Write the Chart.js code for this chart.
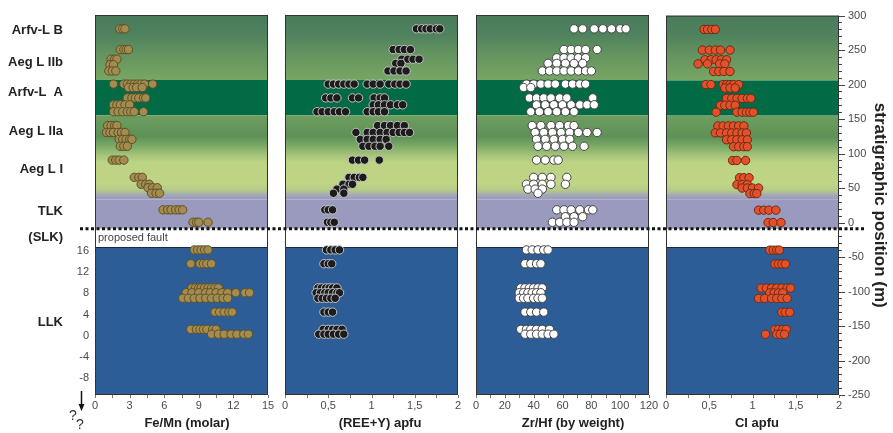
<!DOCTYPE html>
<html>
<head>
<meta charset="utf-8">
<script src="https://cdn.jsdelivr.net/npm/chart.js@4.4.1/dist/chart.umd.min.js"></script>
<style>
  html, body { margin: 0; padding: 0; background: #fff; }
  #wrap { position: relative; width: 893px; height: 433px; }
  #wrap canvas { position: absolute; left: 0; top: 0; }
</style>
</head>
<body>
<div id="wrap">
  <canvas id="c1" width="893" height="433"></canvas>
  <canvas id="c2" width="893" height="433"></canvas>
  <canvas id="c3" width="893" height="433"></canvas>
  <canvas id="c4" width="893" height="433"></canvas>
</div>
<script>
const FONT = "'Liberation Sans', Arial, Helvetica, sans-serif";
Chart.defaults.font.family = FONT;

// Each row: stratigraphic position (m), then the analyses measured at that level
const feMnRows = [
  [280, 2.15, 2.4, 2.6],
  [250, 2.2, 2.5, 2.7, 2.9],
  [236, 1.4, 1.7, 1.9],
  [228, 1.3, 1.6],
  [219, 1.2, 1.5, 1.8],
  [200, 1.6, 2.5, 2.8, 3.1, 3.4, 3.7, 4.0, 4.3, 5.0],
  [195, 2.9, 3.3, 3.6, 4.1],
  [180, 2.8, 3.2, 3.5, 3.8, 4.2, 4.4],
  [170, 1.6, 1.9, 2.2, 2.6, 3.0],
  [160, 1.6, 2.0, 2.4, 2.8, 3.1, 3.4, 4.2],
  [140, 1.1, 1.4, 1.7, 1.9],
  [130, 1.0, 1.3, 1.6, 2.0, 2.3, 2.6],
  [120, 2.1, 2.4, 2.7, 3.0, 3.2],
  [110, 2.2, 2.5, 2.8],
  [90, 1.5, 1.8, 2.1, 2.5],
  [65, 3.4, 3.8, 4.1],
  [55, 4.0, 4.4, 4.7],
  [50, 4.6, 5.0, 5.4],
  [42, 4.9, 5.3, 5.6],
  [18, 5.9, 6.3, 6.6, 7.0, 7.3, 7.6],
  [0, 8.5, 8.8, 9.0, 9.8],
  [-40, 8.6, 8.9, 9.2, 9.5, 9.8],
  [-60, 8.3, 9.1, 9.4, 9.7, 10.1],
  [-95, 8.4, 8.7, 9.0, 9.2, 9.5, 9.8, 10.1, 10.4, 10.7],
  [-102, 7.9, 8.4, 9.0, 9.6, 10.0, 10.5, 11.0, 11.5, 12.2, 13.0, 13.4],
  [-110, 7.6, 8.1, 8.6, 9.1, 9.6, 10.1, 10.6, 11.1, 11.5],
  [-130, 10.4, 10.8, 11.2, 11.6, 11.9],
  [-155, 8.3, 8.8, 9.1, 9.4, 9.7, 10.2, 10.5],
  [-162, 10.1, 10.7, 11.2, 11.8, 12.3, 12.9, 13.3]
];

const reeRows = [
  [280, 1.52, 1.58, 1.63, 1.68, 1.75, 1.79],
  [250, 1.25, 1.32, 1.38, 1.45],
  [236, 1.35, 1.42, 1.48, 1.55],
  [230, 1.28, 1.34],
  [219, 1.19, 1.26, 1.33, 1.40],
  [200, 0.5, 0.56, 0.62, 0.68, 0.74, 0.8, 0.95, 1.02, 1.1, 1.2, 1.27, 1.33, 1.4],
  [180, 0.47, 0.53, 0.6, 0.78, 0.85, 1.03, 1.1, 1.15],
  [170, 1.02, 1.08, 1.15, 1.22, 1.3, 1.36],
  [160, 0.37, 0.43, 0.5, 0.57, 0.63, 0.7, 0.95, 1.02, 1.08, 1.15],
  [140, 1.07, 1.15, 1.22, 1.3, 1.38],
  [130, 0.82, 0.95, 1.02, 1.1, 1.18, 1.25, 1.32, 1.38, 1.44],
  [120, 0.87, 0.95, 1.02, 1.1, 1.17],
  [110, 0.9, 0.97, 1.04, 1.1, 1.2],
  [90, 0.78, 0.85, 0.92, 1.09],
  [65, 0.74, 0.8, 0.86, 0.9],
  [55, 0.67, 0.74, 0.78],
  [48, 0.6, 0.68],
  [42, 0.56, 0.68],
  [18, 0.46, 0.5, 0.55],
  [0, 0.49, 0.53, 0.57],
  [-40, 0.48, 0.53, 0.58, 0.63],
  [-60, 0.45, 0.5, 0.54],
  [-95, 0.38, 0.42, 0.47, 0.51, 0.55, 0.6],
  [-102, 0.36, 0.41, 0.46, 0.5, 0.55, 0.6, 0.63],
  [-110, 0.38, 0.43, 0.48, 0.53, 0.58],
  [-130, 0.45, 0.5, 0.55],
  [-155, 0.44, 0.5, 0.55, 0.6, 0.66],
  [-162, 0.39, 0.45, 0.5, 0.56, 0.62, 0.68]
];

const zrHfRows = [
  [280, 68, 74, 82, 88, 94, 100, 104],
  [250, 61, 66, 71, 76, 84],
  [238, 56, 61, 66, 71, 76],
  [230, 50, 56, 62, 68, 74],
  [219, 46, 51, 56, 61, 66, 71, 76, 80],
  [200, 35, 40, 45, 50, 55, 62, 67, 72, 76],
  [195, 33, 38],
  [180, 37, 42, 47, 52, 58, 63, 81],
  [170, 42, 48, 54, 60, 66, 72, 77, 82],
  [160, 38, 44, 50, 56, 62, 68],
  [140, 39, 45, 52, 58, 64, 68],
  [130, 41, 47, 53, 59, 65, 71, 77, 84],
  [120, 42, 48, 54, 60, 65],
  [110, 43, 49, 55, 61, 67, 75],
  [90, 42, 48, 54, 57],
  [65, 40, 46, 52, 63],
  [55, 35, 40, 46, 52, 62],
  [48, 36, 41, 46],
  [42, 43],
  [18, 56, 61, 66, 72, 78, 81],
  [8, 62, 68, 74],
  [0, 53, 58, 63, 68],
  [-40, 35, 39, 43, 47, 50],
  [-60, 34, 38, 42, 45],
  [-95, 31, 34, 37, 40, 43, 46],
  [-102, 30, 33, 36, 39, 42, 45],
  [-110, 30, 33, 36, 40, 43, 46],
  [-130, 34, 38, 42, 47],
  [-155, 31, 35, 38, 42, 46, 51],
  [-162, 34, 38, 42, 46, 50, 54]
];

const clRows = [
  [280, 0.44, 0.48, 0.53, 0.57],
  [250, 0.42, 0.5, 0.57, 0.63, 0.74],
  [236, 0.45, 0.52, 0.58, 0.64, 0.7],
  [230, 0.37, 0.48, 0.62, 0.68],
  [219, 0.55, 0.61, 0.67, 0.74],
  [200, 0.46, 0.52, 0.66, 0.7, 0.74, 0.78, 0.84],
  [195, 0.68, 0.74, 0.8],
  [180, 0.7, 0.76, 0.82, 0.88, 0.94, 0.98],
  [170, 0.63, 0.68, 0.74, 0.8],
  [160, 0.58, 0.82, 0.88, 0.93, 0.97, 1.01],
  [140, 0.6, 0.66, 0.72, 0.78, 0.84, 0.9],
  [130, 0.57, 0.63, 0.7, 0.76, 0.82, 0.88, 0.93],
  [120, 0.7, 0.76, 0.82, 0.88, 0.94],
  [110, 0.78, 0.84, 0.9, 0.94],
  [90, 0.77, 0.82, 0.92],
  [65, 0.85, 0.9, 0.96],
  [55, 0.82, 0.88, 0.94],
  [50, 0.88, 0.94, 1.0, 1.07],
  [42, 0.97, 1.02, 1.05],
  [18, 1.07, 1.13, 1.19, 1.27],
  [0, 1.18, 1.24, 1.33],
  [-40, 1.2, 1.24, 1.28, 1.31],
  [-60, 1.26, 1.3, 1.34, 1.38],
  [-95, 1.1, 1.16, 1.22, 1.28, 1.34, 1.4, 1.44],
  [-102, 1.2, 1.25, 1.3, 1.35],
  [-110, 1.07, 1.14, 1.22, 1.28, 1.34, 1.4],
  [-130, 1.34, 1.38, 1.43],
  [-155, 1.26, 1.3, 1.35, 1.39],
  [-162, 1.15, 1.28, 1.32, 1.37]
];

// Stratigraphic units and the position (m) of their labels
const unitNames = ['Arfv-L B', 'Aeg L IIb', 'Arfv-L  A', 'Aeg L IIa', 'Aeg L I', 'TLK', '(SLK)', 'LLK'];
const unitPositions = [277, 231, 188, 131, 76, 15, -22, -145];

// LLK sample numbering, tied to the metre scale
const llkTickValues = [16, 12, 8, 4, 0, -4, -8];
const llkOrigin = -164;        // metres at sample number 0
const llkMetresPerUnit = 7.63;

const yRange = [-250, 300];
const faultPosition = -9;      // proposed fault (m)
const gapBottom = -36;         // top of the LLK section (m)

// Coloured lithological zones, from top to bottom
const zones = [
  { from: 300, to: 206, stops: [[300, '#4a7b5c'], [272, '#4e825d'], [245, '#63935f'], [206, '#77a664']] },
  { from: 206, to: 155, color: '#006b45' },
  { from: 155, to: 33, stops: [[155, '#6e9e60'], [138, '#65975b'], [124, '#5e9157'], [110, '#7cab66'], [97, '#a6c47a'], [87, '#bcd384'], [56, '#c0d585'], [47, '#b5cc87'], [38, '#a2a3bb'], [33, '#9a9ac0']] },
  { from: 33, to: faultPosition, color: '#9a9abf' },
  { from: gapBottom, to: -250, color: '#2d5d97' }
];

const commaDecimal = v => String(Math.round(v * 100) / 100).replace('.', ',');

function toPoints(rows) {
  const pts = [];
  rows.forEach(r => { for (let i = 1; i < r.length; i++) pts.push({ x: r[i], y: r[0] }); });
  return pts;
}

const zonePlugin = {
  id: 'zones',
  beforeDatasetsDraw(chart) {
    const { ctx, chartArea: a, scales: { y } } = chart;
    ctx.save();
    ctx.beginPath();
    ctx.rect(a.left, a.top, a.right - a.left, a.bottom - a.top);
    ctx.clip();
    zones.forEach(z => {
      const y0 = y.getPixelForValue(z.from), y1 = y.getPixelForValue(z.to);
      if (z.stops) {
        const g = ctx.createLinearGradient(0, y0, 0, y1);
        z.stops.forEach(([m, c]) => g.addColorStop((z.from - m) / (z.from - z.to), c));
        ctx.fillStyle = g;
      } else {
        ctx.fillStyle = z.color;
      }
      ctx.fillRect(a.left, y0, a.right - a.left, y1 - y0);
    });
    const yb = Math.round(y.getPixelForValue(gapBottom)) + 0.5;
    ctx.strokeStyle = '#1e2a3a';
    ctx.lineWidth = 1;
    ctx.beginPath(); ctx.moveTo(a.left, yb); ctx.lineTo(a.right, yb); ctx.stroke();
    ctx.restore();
  }
};

const framePlugin = {
  id: 'frame',
  afterDraw(chart, args, opts) {
    const { ctx, chartArea: a, scales: { x } } = chart;
    ctx.save();
    ctx.strokeStyle = '#333';
    ctx.lineWidth = 1;
    ctx.strokeRect(a.left + 0.5, a.top + 0.5, a.right - a.left - 1, a.bottom - a.top - 1);
    // small ticks under the value axis
    ctx.strokeStyle = '#777';
    for (let v = x.min; v <= x.max + 1e-9; v += opts.minor) {
      const px = Math.round(x.getPixelForValue(v)) + 0.5;
      ctx.beginPath(); ctx.moveTo(px, a.bottom); ctx.lineTo(px, a.bottom + 3); ctx.stroke();
    }
    // axis title
    ctx.font = 'bold 13px ' + FONT;
    ctx.fillStyle = '#222';
    ctx.textAlign = 'center';
    ctx.textBaseline = 'middle';
    ctx.fillText(opts.title, opts.titleX, 423);
    ctx.restore();
  }
};

const leftNotesPlugin = {
  id: 'leftNotes',
  afterDraw(chart) {
    const { ctx, chartArea: a, scales: { y } } = chart;
    ctx.save();
    ctx.font = 'bold 13px ' + FONT;
    ctx.fillStyle = '#222';
    ctx.textAlign = 'right';
    ctx.textBaseline = 'middle';
    unitNames.forEach((n, i) => ctx.fillText(n, 63, y.getPixelForValue(unitPositions[i])));

    ctx.font = '11px ' + FONT;
    ctx.fillStyle = '#444';
    ctx.textAlign = 'left';
    ctx.fillText('proposed fault', a.left + 3, (y.getPixelForValue(faultPosition) + y.getPixelForValue(gapBottom)) / 2);

    // downward arrow below the section
    ctx.strokeStyle = '#111';
    ctx.fillStyle = '#111';
    ctx.lineWidth = 1.5;
    ctx.beginPath(); ctx.moveTo(81.5, 391); ctx.lineTo(81.5, 405); ctx.stroke();
    ctx.beginPath(); ctx.moveTo(78.5, 404); ctx.lineTo(84.5, 404); ctx.lineTo(81.5, 411); ctx.closePath(); ctx.fill();

    ctx.font = '14px ' + FONT;
    ctx.fillStyle = '#333';
    ctx.textAlign = 'center';
    ctx.fillText('?', 73, 416);
    ctx.fillText('?', 80, 425);
    ctx.restore();
  }
};

const rightAxisPlugin = {
  id: 'rightAxis',
  afterDraw(chart) {
    const { ctx, chartArea: a, scales: { y } } = chart;
    ctx.save();
    ctx.strokeStyle = '#444';
    ctx.lineWidth = 1;
    for (let m = yRange[0]; m <= yRange[1]; m += 10) {
      const py = Math.round(y.getPixelForValue(m)) + 0.5;
      const len = (m % 50 === 0) ? 6 : 3;
      ctx.beginPath(); ctx.moveTo(a.right, py); ctx.lineTo(a.right + len, py); ctx.stroke();
    }
    // dotted trace of the proposed fault across all panels
    const fy = y.getPixelForValue(faultPosition);
    ctx.strokeStyle = '#111';
    ctx.lineWidth = 3;
    ctx.setLineDash([3, 2.5]);
    ctx.beginPath(); ctx.moveTo(80, fy); ctx.lineTo(866, fy); ctx.stroke();
    ctx.restore();
  }
};

const panels = [
  { id: 'c1', rows: feMnRows, min: 0, max: 15, step: 3, minor: 1.5, fmt: v => String(v),
    title: 'Fe/Mn (molar)', titleX: 187, left: 95, right: 268,
    fill: '#a38c4e', stroke: '#5d4f28' },
  { id: 'c2', rows: reeRows, min: 0, max: 2, step: 0.5, minor: 0.25, fmt: commaDecimal,
    title: '(REE+Y) apfu', titleX: 380, left: 285, right: 458,
    fill: '#1c1c1c', stroke: '#c4c4c4' },
  { id: 'c3', rows: zrHfRows, min: 0, max: 120, step: 20, minor: 10, fmt: v => String(v),
    title: 'Zr/Hf (by weight)', titleX: 573, left: 476, right: 649,
    fill: '#ffffff', stroke: '#444444' },
  { id: 'c4', rows: clRows, min: 0, max: 2, step: 0.5, minor: 0.25, fmt: commaDecimal,
    title: 'Cl apfu', titleX: 757, left: 666, right: 839,
    fill: '#e3512a', stroke: '#6e2a14' }
];

panels.forEach((p, idx) => {
  const first = idx === 0, last = idx === panels.length - 1;
  const scales = {
    x: {
      type: 'linear', position: 'bottom', min: p.min, max: p.max,
      ticks: { stepSize: p.step, callback: p.fmt, padding: 4, color: '#4a4a4a', font: { size: 11 }, maxRotation: 0 },
      grid: { display: false, drawTicks: false },
      border: { display: false },
      afterFit: s => { s.height = 38; }
    },
    y: {
      type: 'linear', min: yRange[0], max: yRange[1],
      display: false,
      grid: { display: false, drawTicks: false },
      border: { display: false }
    }
  };
  if (last) {
    Object.assign(scales.y, {
      display: true, position: 'right',
      ticks: { stepSize: 50, padding: 9, color: '#4a4a4a', font: { size: 11 } },
      title: { display: true, text: 'stratigraphic position (m)', color: '#222',
               font: { size: 17, weight: 'bold' }, padding: { top: 3, bottom: 0 } },
      afterFit: s => { s.width = 893 - p.right; }
    });
  }
  if (first) {
    scales.yL = {
      type: 'linear', position: 'left',
      min: (yRange[0] - llkOrigin) / llkMetresPerUnit,
      max: (yRange[1] - llkOrigin) / llkMetresPerUnit,
      afterBuildTicks: s => { s.ticks = llkTickValues.map(v => ({ value: v })); },
      ticks: { padding: 6, color: '#4a4a4a', font: { size: 11 }, callback: v => String(v) },
      grid: { display: false, drawTicks: false },
      border: { display: false },
      afterFit: s => { s.width = p.left; }
    };
  }
  const extra = [zonePlugin, framePlugin];
  if (first) extra.push(leftNotesPlugin);
  if (last) extra.push(rightAxisPlugin);

  new Chart(document.getElementById(p.id), {
    type: 'scatter',
    data: {
      datasets: [{
        data: toPoints(p.rows),
        pointRadius: 4.2,
        pointHoverRadius: 4.2,
        pointBorderWidth: 1,
        backgroundColor: p.fill,
        borderColor: p.stroke,
        xAxisID: 'x',
        yAxisID: 'y'
      }]
    },
    options: {
      responsive: false,
      animation: false,
      events: [],
      layout: { padding: { left: first ? 0 : p.left, right: last ? 0 : 893 - p.right, top: 15, bottom: 0 } },
      plugins: {
        legend: { display: false },
        tooltip: { enabled: false },
        frame: { minor: p.minor, title: p.title, titleX: p.titleX }
      },
      scales
    },
    plugins: extra
  });
});
</script>
</body>
</html>
